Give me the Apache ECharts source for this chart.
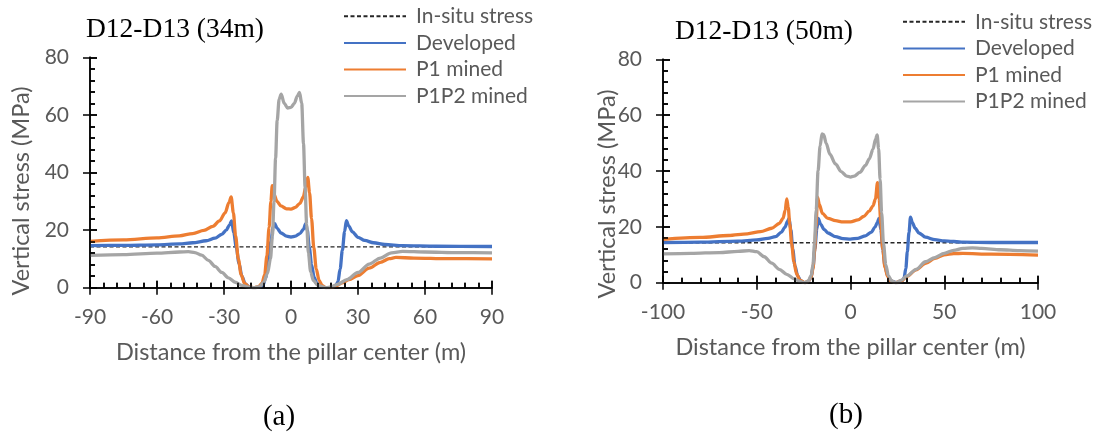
<!DOCTYPE html>
<html>
<head>
<meta charset="utf-8">
<script src="https://cdn.jsdelivr.net/npm/echarts@6.0.0/dist/echarts.min.js"></script>
<style>
  html, body { margin: 0; padding: 0; background: #fff; }
  .layer { position: absolute; left: 0; top: 0; width: 1093px; height: 433px; }
  #axes { pointer-events: none; }
</style>
</head>
<body>
<div id="chart" class="layer"></div>
<div id="axes" class="layer"></div>
<script>
// series names (legend order)
const seriesNames = ["In-situ stress", "Developed", "P1 mined", "P1P2 mined"];

// ---- panel (a): D12-D13 (34m) ----  [distance (m), vertical stress (MPa)]
const inSituA = [[-90, 14.2], [90, 14.2]];
const developedA = [
  [-90, 14.6], [-75, 14.7], [-60, 14.9], [-50, 15.2], [-44, 15.6], [-38, 16.3], [-34, 17.2],
  [-31, 18.5], [-29, 20], [-27.5, 21.8], [-26.6, 23.2], [-25.6, 19], [-24.5, 14], [-23.3, 8.5],
  [-22, 4], [-20.5, 1.3], [-18.5, 0.1], [-16, 0], [-14, 0.2], [-12.5, 1], [-11.3, 3.5],
  [-10.2, 9], [-9, 16], [-8, 21], [-7.3, 22.3], [-6.2, 20.6], [-4.5, 19], [-2, 17.9], [0, 17.6],
  [2, 17.9], [4, 18.8], [5.5, 20.2], [6.6, 22.2], [7.3, 20], [8.2, 14], [9.2, 8], [10.4, 3.5],
  [11.8, 1.2], [13.5, 0.2], [16, 0], [18.5, 0.1], [20, 0.6], [21, 2], [22, 6.5], [23, 13],
  [24, 19.5], [24.8, 23.3], [25.8, 21.5], [27.5, 19.4], [30, 17.5], [33, 16.4], [37, 15.6],
  [42, 15], [50, 14.6], [65, 14.4], [90, 14.3]
];
const p1MinedA = [
  [-90, 16.1], [-75, 16.6], [-60, 17.3], [-50, 18], [-44, 18.8], [-39, 19.9], [-35, 21.3],
  [-32, 23.2], [-29.5, 26], [-27.8, 29.5], [-26.8, 31.5], [-25.8, 26], [-24.8, 18], [-23.6, 10],
  [-22.3, 4.5], [-20.8, 1.5], [-18.8, 0.3], [-16.3, 0], [-14.5, 0.4], [-13, 1.5], [-11.8, 4.5],
  [-10.8, 11], [-9.8, 21], [-9, 30], [-8.4, 35.4], [-7.6, 32.5], [-6.3, 30], [-4.5, 28.4],
  [-2, 27.4], [0, 27.3], [2, 27.9], [4, 29.3], [5.5, 31.5], [6.6, 35], [7.5, 38.3], [8.3, 33],
  [9.2, 24], [10.2, 14], [11.3, 6.5], [12.6, 2.5], [14, 0.7], [15.7, 0], [18, 0.1], [20, 0.6],
  [23, 1.7], [26, 2.8], [30, 4.2], [35, 6.8], [40, 8.8], [44, 10.1], [47, 10.5], [55, 10.3],
  [70, 10.1], [90, 10.0]
];
const p1p2MinedA = [
  [-90, 11.2], [-75, 11.5], [-60, 12.0], [-50, 12.4], [-46, 12.5], [-43, 12.2], [-40, 11.3],
  [-37, 9.5], [-34, 7.4], [-31, 5.3], [-28, 3.4], [-25, 1.9], [-22, 0.8], [-19, 0.2], [-16.3, 0],
  [-14, 0.4], [-12.3, 1.8], [-10.5, 5], [-9.2, 10], [-8.3, 18], [-7.6, 30], [-6.9, 45],
  [-6.2, 58], [-5.3, 65.5], [-4.4, 67.2], [-3, 64], [-1.5, 62.4], [0, 62.6], [1.5, 64],
  [2.8, 66.5], [3.8, 67.8], [4.8, 64], [5.6, 50], [6.3, 35], [7, 22], [7.8, 12], [8.8, 5.5],
  [10, 2.5], [12, 0.8], [15.7, 0], [18, 0.3], [21, 1.2], [25, 2.8], [30, 5.3], [35, 8.2],
  [40, 10.3], [45, 12.1], [50, 12.6], [60, 12.4], [75, 12.2], [90, 12.1]
];
const xTicksA = { min: -90, max: 90, interval: 30 };

// ---- panel (b): D12-D13 (50m) ----
const inSituB = [[-100, 14.3], [100, 14.3]];
const developedB = [
  [-100, 14.4], [-80, 14.5], [-60, 14.9], [-50, 15.3], [-44, 15.9], [-40, 16.5], [-37, 18],
  [-35, 19.8], [-33.5, 22], [-32.8, 23], [-31.8, 19], [-30.8, 12], [-29.6, 6], [-28.2, 2.5],
  [-26.5, 0.6], [-24.4, 0], [-22.5, 0.4], [-21, 2], [-20, 5.5], [-19, 12], [-18, 19],
  [-17.2, 23], [-16, 21], [-14, 19], [-12, 17.8], [-8, 16.5], [-4, 15.8], [0, 15.6], [4, 15.9],
  [8, 16.8], [11, 18], [13, 19.8], [14.3, 21.5], [15.2, 23], [16.2, 19], [17.2, 12], [18.4, 6],
  [19.8, 2.5], [21.5, 0.6], [24.6, 0], [27, 0.3], [28.5, 1.5], [29.5, 5], [30.3, 11],
  [31.2, 18], [32, 23.5], [33, 21.5], [34.5, 19.5], [36.5, 17.8], [40, 16.3], [45, 15.4],
  [50, 15], [60, 14.5], [75, 14.4], [100, 14.4]
];
const p1MinedB = [
  [-100, 15.5], [-80, 16.2], [-65, 16.9], [-55, 17.5], [-48, 18.3], [-42, 19.5], [-38, 21.2],
  [-36, 23], [-34.8, 26], [-34, 30], [-33.2, 27], [-32.4, 21], [-31.4, 14], [-30.2, 7.5],
  [-28.8, 3.2], [-27, 0.9], [-24.4, 0], [-22.5, 0.5], [-21, 2], [-20, 5], [-19.2, 11],
  [-18.4, 20], [-17.6, 30.6], [-16.6, 28], [-15, 24.8], [-12, 23], [-8, 22.2], [-4, 21.8],
  [0, 21.8], [4, 22.5], [7, 23.7], [10, 25.6], [12, 27.5], [13.3, 30], [14.4, 35.8], [15.3, 30],
  [16.2, 21], [17.2, 12], [18.4, 5.5], [19.8, 2.2], [21.5, 0.6], [24, 0], [27, 0.6], [30, 2.2],
  [35, 4.6], [40, 6.9], [45, 8.7], [50, 10.0], [55, 10.4], [60, 10.5], [75, 10.2], [100, 9.9]
];
const p1p2MinedB = [
  [-100, 10.3], [-85, 10.5], [-70, 10.8], [-60, 11.2], [-54, 11.5], [-50, 11.1], [-46, 9.3],
  [-42, 7], [-38, 4.8], [-34, 3], [-30, 1.4], [-27, 0.5], [-24.4, 0], [-22.5, 0.6], [-21, 2.5],
  [-20, 6.5], [-19.2, 14], [-18.3, 26], [-17.3, 40], [-16.2, 49], [-15.2, 53.3], [-14.3, 53],
  [-13, 50], [-11, 46], [-8, 42.5], [-5, 39.8], [-2, 38.2], [0, 37.8], [2, 38.2], [5, 39.5],
  [8, 42], [10, 44.3], [12, 47.8], [13.4, 51.5], [14.2, 52.9], [15, 48], [15.8, 37], [16.6, 25],
  [17.6, 14], [18.8, 6.5], [20.2, 2.5], [22, 0.6], [24, 0], [27, 0.8], [30, 2.4], [35, 4.8],
  [40, 7.5], [45, 9], [50, 10.5], [55, 11.6], [60, 12.3], [65, 12.5], [70, 12.3], [80, 11.8],
  [90, 11.5], [100, 11.3]
];
const xTicksB = { min: -100, max: 100, interval: 50 };
const yTicks = { min: 0, max: 80, interval: 20 };

function labelFont(size) {
  return { color: "#595959", fontFamily: "Lato", fontSize: size };
}
function black() {
  return { color: "#000", width: 1.5 };
}
function grids() {
  return [
    { left: 90, top: 57.3, width: 402, height: 230.4, outerBoundsMode: "none" },
    { left: 663, top: 59.3, width: 375, height: 223.4, outerBoundsMode: "none" }
  ];
}

// main axis: line, labels, inner major + minor ticks
function mainAxis(grid, ticks, extra) {
  return Object.assign({
    type: "value", gridIndex: grid,
    min: ticks.min, max: ticks.max, interval: ticks.interval,
    axisLine: { show: true, onZero: false, lineStyle: black() },
    axisTick: { show: true, inside: true, length: 7, lineStyle: black() },
    minorTick: { show: true, splitNumber: 5, length: 5, lineStyle: black() },
    splitLine: { show: false },
    axisLabel: Object.assign({ margin: 19 }, labelFont(21))
  }, extra);
}
// overlay axis: only the outer half of the crossing major ticks
function tickAxis(grid, ticks, position) {
  return {
    type: "value", gridIndex: grid, position: position,
    min: ticks.min, max: ticks.max, interval: ticks.interval,
    axisLine: { show: false, onZero: false },
    axisTick: { show: true, inside: false, length: 7, lineStyle: black() },
    minorTick: { show: false },
    axisLabel: { show: false },
    splitLine: { show: false }
  };
}
function xName() {
  return {
    position: "bottom",
    name: "Distance from the pillar center (m)",
    nameLocation: "middle",
    nameGap: 53,
    nameTextStyle: labelFont(23.5)
  };
}
function yExtra() {
  return { position: "left", axisLabel: Object.assign({ margin: 21 }, labelFont(21)) };
}
function bare(position) {
  return { position: position, axisLabel: { show: false } };
}

function lineSeries(name, data, xi, yi, color) {
  return {
    name: name, type: "line", data: data, xAxisIndex: xi, yAxisIndex: yi,
    symbol: "none", smooth: 0.3, smoothMonotone: "x",
    lineStyle: { color: color, width: 3.3 }, itemStyle: { color: color }
  };
}
function dashSeries(name, data, xi, yi) {
  return {
    name: name, type: "line", data: data, xAxisIndex: xi, yAxisIndex: yi,
    symbol: "none",
    lineStyle: { color: "#262626", width: 1.3, type: [4, 2.5] }, itemStyle: { color: "#262626" }
  };
}

function legendAt(left, top) {
  return {
    data: seriesNames, orient: "vertical", left: left, top: top, padding: 0, itemGap: 0,
    itemWidth: 62, itemHeight: 14, selectedMode: false,
    itemStyle: { opacity: 0 },
    textStyle: Object.assign({ lineHeight: 26.6, padding: [0, 0, 0, 5] }, labelFont(21))
  };
}
function titleAt(text, left, top) {
  return {
    text: text, left: left, top: top, padding: 0,
    textStyle: { fontFamily: "Liberation Serif", fontSize: 27.5, fontWeight: "normal", color: "#000" }
  };
}
function yNameAt(x, y) {
  return {
    type: "text", x: x, y: y, rotation: Math.PI / 2,
    style: {
      text: "Vertical stress (MPa)", fontFamily: "Lato", fontSize: 23.5, fill: "#595959",
      align: "center", verticalAlign: "middle"
    }
  };
}
function captionAt(text, x, y) {
  return {
    type: "text", x: x, y: y,
    style: {
      text: text, fontFamily: "Liberation Serif", fontSize: 29, fill: "#000",
      align: "center", verticalAlign: "middle"
    }
  };
}

// data layer: curves, labels, legends, titles
const chart = echarts.init(document.getElementById("chart"));
chart.setOption({
  animation: false,
  backgroundColor: "#fff",
  title: [titleAt("D12-D13 (34m)", 86, 16), titleAt("D12-D13 (50m)", 675, 18)],
  legend: [legendAt(343, 3), legendAt(902, 8.5)],
  grid: grids(),
  xAxis: [mainAxis(0, xTicksA, xName()), mainAxis(1, xTicksB, xName())],
  yAxis: [mainAxis(0, yTicks, yExtra()), mainAxis(1, yTicks, yExtra())],
  graphic: [
    yNameAt(21, 191),
    yNameAt(607, 194),
    captionAt("(a)", 279, 417),
    captionAt("(b)", 846, 415)
  ],
  series: [
    dashSeries(seriesNames[0], inSituA, 0, 0),
    lineSeries(seriesNames[1], developedA, 0, 0, "#4472C4"),
    lineSeries(seriesNames[2], p1MinedA, 0, 0, "#ED7D31"),
    lineSeries(seriesNames[3], p1p2MinedA, 0, 0, "#A5A5A5"),
    dashSeries(seriesNames[0], inSituB, 1, 1),
    lineSeries(seriesNames[1], developedB, 1, 1, "#4472C4"),
    lineSeries(seriesNames[2], p1MinedB, 1, 1, "#ED7D31"),
    lineSeries(seriesNames[3], p1p2MinedB, 1, 1, "#A5A5A5")
  ]
});

// axis layer on top: black axis lines with crossing major ticks and inner minor ticks
const axes = echarts.init(document.getElementById("axes"));
axes.setOption({
  animation: false,
  backgroundColor: "transparent",
  grid: grids(),
  xAxis: [
    mainAxis(0, xTicksA, bare("bottom")),
    mainAxis(1, xTicksB, bare("bottom")),
    tickAxis(0, xTicksA, "bottom"),
    tickAxis(1, xTicksB, "bottom")
  ],
  yAxis: [
    mainAxis(0, yTicks, bare("left")),
    mainAxis(1, yTicks, bare("left")),
    tickAxis(0, yTicks, "left"),
    tickAxis(1, yTicks, "left")
  ],
  series: []
});
</script>
</body>
</html>
